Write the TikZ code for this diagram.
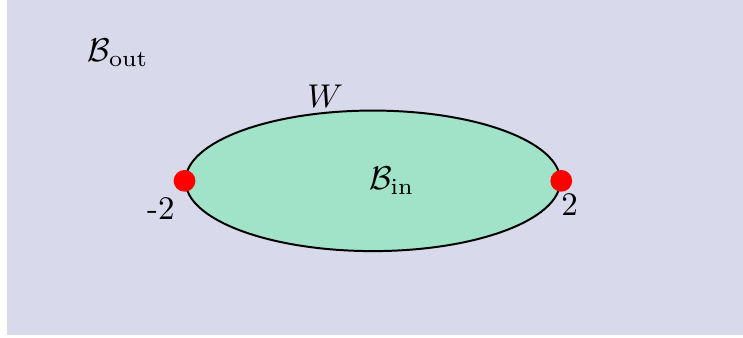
\documentclass[tikz,border=0pt]{standalone}
\usepackage{amsmath}
\usetikzlibrary{shapes.geometric, positioning}

\definecolor{outbg}{RGB}{216,217,235}
\definecolor{infill}{RGB}{160,227,201}

\begin{document}
\begin{tikzpicture}[
    region/.style={draw, ellipse, line width=0.6pt, fill=infill,
                   minimum width=4cm, minimum height=1.5cm, inner sep=0pt},
    endpt/.style={circle, fill=red, minimum size=6.6pt, inner sep=0pt}
  ]

  % outer region
  \useasboundingbox (-3.98,-1.67) rectangle (3.95,1.93);
  \fill[outbg] (-3.91,-1.65) rectangle (3.95,1.93);
  \node (bout) at (-2.72,1.37) {$\mathcal{B}_{\text{out}}$};

  % inner region and its boundary
  \node[region] (bin) at (0,0) {};
  \node (binlabel) at (0.2,0) {$\mathcal{B}_{\text{in}}$};
  \node (w) at (-0.51,0.9) {$W$};

  % end points
  \node[endpt] (lft) at (bin.west) {};
  \node[endpt] (rgt) at (bin.east) {};
  \node[below left=-1pt and -3pt of lft] (mtwo) {-2};
  \node[below right=-2pt and -6pt of rgt] (two) {2};

\end{tikzpicture}
\end{document}
